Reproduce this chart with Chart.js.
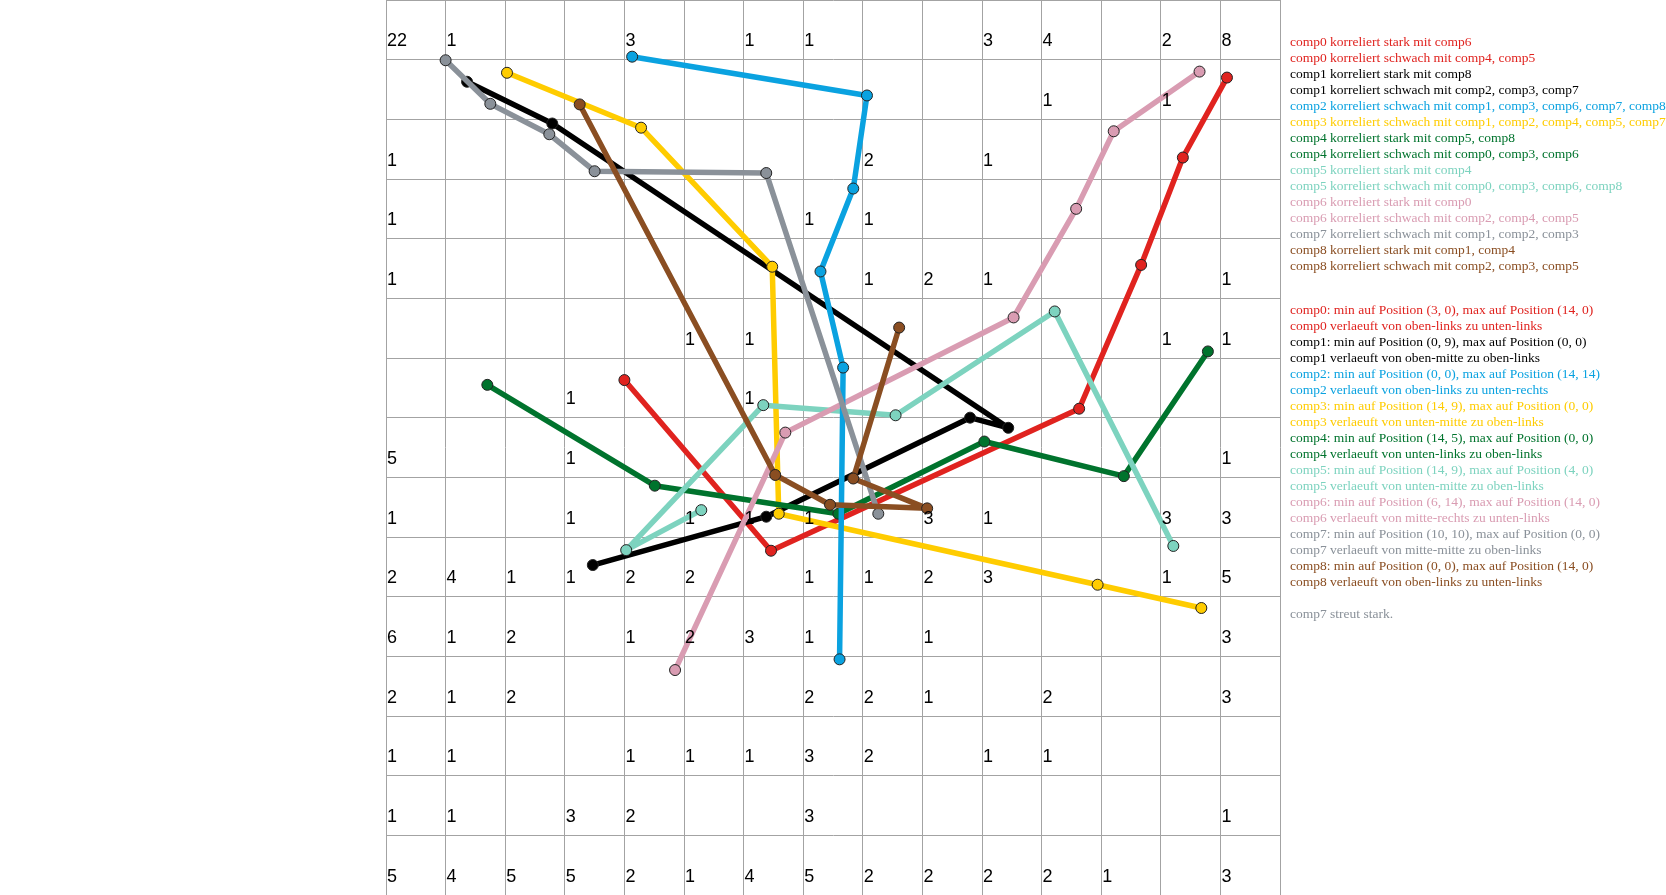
<!DOCTYPE html>
<html>
<head>
<meta charset="utf-8">
<script src="https://cdn.jsdelivr.net/npm/chart.js@4/dist/chart.umd.min.js"></script>
<style>
  html, body { margin: 0; padding: 0; background: #fff; overflow: hidden; }
  #wrap { position: relative; width: 1666px; height: 895px; overflow: hidden; }
  #c { position: absolute; left: 0; top: 0; }
  .notes { position: absolute; left: 1290px; font-family: "Liberation Serif", "Times New Roman", serif;
           font-size: 13.5px; line-height: 16px; white-space: pre; }
</style>
</head>
<body>
<div id="wrap">
  <canvas id="c" width="1666" height="895"></canvas>
  <div id="notes1" class="notes" style="top:34px"></div>
  <div id="notes2" class="notes" style="top:302px"></div>
  <div id="notes3" class="notes" style="top:606px"></div>
</div>
<script>
// ---------- data ----------
const gridSize = 15;

// hit counts per cell (row by row, top to bottom); 0 = empty
const countRow0  = [22,1,0,0,3,0,1,1,0,0,3,4,0,2,8];
const countRow1  = [0,0,0,0,0,0,0,0,0,0,0,1,0,1,0];
const countRow2  = [1,0,0,0,0,0,0,0,2,0,1,0,0,0,0];
const countRow3  = [1,0,0,0,0,0,0,1,1,0,0,0,0,0,0];
const countRow4  = [1,0,0,0,0,0,0,0,1,2,1,0,0,0,1];
const countRow5  = [0,0,0,0,0,1,1,0,0,0,0,0,0,1,1];
const countRow6  = [0,0,0,1,0,0,1,0,0,0,0,0,0,0,0];
const countRow7  = [5,0,0,1,0,0,0,0,0,0,0,0,0,0,1];
const countRow8  = [1,0,0,1,0,1,1,1,0,3,1,0,0,3,3];
const countRow9  = [2,4,1,1,2,2,0,1,1,2,3,0,0,1,5];
const countRow10 = [6,1,2,0,1,2,3,1,0,1,0,0,0,0,3];
const countRow11 = [2,1,2,0,0,0,0,2,2,1,0,2,0,0,3];
const countRow12 = [1,1,0,0,1,1,1,3,2,0,1,1,0,0,0];
const countRow13 = [1,1,0,3,2,0,0,3,0,0,0,0,0,0,1];
const countRow14 = [5,4,5,5,2,1,4,5,2,2,2,2,1,0,3];
const countRows = [countRow0,countRow1,countRow2,countRow3,countRow4,countRow5,countRow6,countRow7,
                   countRow8,countRow9,countRow10,countRow11,countRow12,countRow13,countRow14];

// component trajectories, in grid units (x = column, y = row)
const comp0X = [4.00, 6.46, 11.63, 12.67, 13.37, 14.11];
const comp0Y = [6.37, 9.23, 6.85, 4.44, 2.64, 1.30];
const comp1X = [1.36, 2.79, 10.44, 9.80, 6.38, 3.47];
const comp1Y = [1.37, 2.07, 7.17, 7.00, 8.66, 9.47];
const comp2X = [4.13, 8.07, 7.84, 7.29, 7.67, 7.61];
const comp2Y = [0.95, 1.60, 3.16, 4.55, 6.16, 11.05];
const comp3X = [2.03, 4.28, 6.48, 6.59, 11.94, 13.68];
const comp3Y = [1.22, 2.14, 4.47, 8.61, 9.80, 10.19];
const comp4X = [1.70, 4.51, 7.59, 10.04, 12.38, 13.79];
const comp4Y = [6.45, 8.14, 8.61, 7.40, 7.98, 5.89];
const comp5X = [5.29, 4.03, 6.33, 8.55, 11.22, 13.21];
const comp5Y = [8.55, 9.22, 6.79, 6.96, 5.22, 9.15];
const comp6X = [4.85, 6.70, 10.53, 11.58, 12.21, 13.65];
const comp6Y = [11.23, 7.25, 5.32, 3.50, 2.20, 1.20];
const comp7X = [1.00, 1.75, 2.74, 3.50, 6.38, 8.26];
const comp7Y = [1.01, 1.74, 2.25, 2.87, 2.90, 8.61];
const comp8X = [3.25, 6.53, 7.45, 9.08, 7.84, 8.61];
const comp8Y = [1.75, 7.96, 8.46, 8.52, 8.02, 5.49];

const compNames = ['comp0','comp1','comp2','comp3','comp4','comp5','comp6','comp7','comp8'];
const compXs = [comp0X, comp1X, comp2X, comp3X, comp4X, comp5X, comp6X, comp7X, comp8X];
const compYs = [comp0Y, comp1Y, comp2Y, comp3Y, comp4Y, comp5Y, comp6Y, comp7Y, comp8Y];
const compColors = ['#e0231f','#000000','#0aa2e0','#ffcc00','#00732d','#7dd3bf','#d99cb2','#8a9199','#8a4e22'];
// bottom-to-top drawing rank
const drawRank = [0, 1, 6, 2, 3, 4, 5, 7, 8];

// text notes
const corrNotes = [
  [0,'comp0 korreliert stark mit comp6'],
  [0,'comp0 korreliert schwach mit comp4, comp5'],
  [1,'comp1 korreliert stark mit comp8'],
  [1,'comp1 korreliert schwach mit comp2, comp3, comp7'],
  [2,'comp2 korreliert schwach mit comp1, comp3, comp6, comp7, comp8'],
  [3,'comp3 korreliert schwach mit comp1, comp2, comp4, comp5, comp7'],
  [4,'comp4 korreliert stark mit comp5, comp8'],
  [4,'comp4 korreliert schwach mit comp0, comp3, comp6'],
  [5,'comp5 korreliert stark mit comp4'],
  [5,'comp5 korreliert schwach mit comp0, comp3, comp6, comp8'],
  [6,'comp6 korreliert stark mit comp0'],
  [6,'comp6 korreliert schwach mit comp2, comp4, comp5'],
  [7,'comp7 korreliert schwach mit comp1, comp2, comp3'],
  [8,'comp8 korreliert stark mit comp1, comp4'],
  [8,'comp8 korreliert schwach mit comp2, comp3, comp5']
];
const posNotes = [
  [0,'comp0: min auf Position (3, 0), max auf Position (14, 0)'],
  [0,'comp0 verlaeuft von oben-links zu unten-links'],
  [1,'comp1: min auf Position (0, 9), max auf Position (0, 0)'],
  [1,'comp1 verlaeuft von oben-mitte zu oben-links'],
  [2,'comp2: min auf Position (0, 0), max auf Position (14, 14)'],
  [2,'comp2 verlaeuft von oben-links zu unten-rechts'],
  [3,'comp3: min auf Position (14, 9), max auf Position (0, 0)'],
  [3,'comp3 verlaeuft von unten-mitte zu oben-links'],
  [4,'comp4: min auf Position (14, 5), max auf Position (0, 0)'],
  [4,'comp4 verlaeuft von unten-links zu oben-links'],
  [5,'comp5: min auf Position (14, 9), max auf Position (4, 0)'],
  [5,'comp5 verlaeuft von unten-mitte zu oben-links'],
  [6,'comp6: min auf Position (6, 14), max auf Position (14, 0)'],
  [6,'comp6 verlaeuft von mitte-rechts zu unten-links'],
  [7,'comp7: min auf Position (10, 10), max auf Position (0, 0)'],
  [7,'comp7 verlaeuft von mitte-mitte zu oben-links'],
  [8,'comp8: min auf Position (0, 0), max auf Position (14, 0)'],
  [8,'comp8 verlaeuft von oben-links zu unten-links']
];
const spreadNotes = [[7,'comp7 streut stark.']];

// ---------- notes panel ----------
function fillNotes(id, list) {
  const box = document.getElementById(id);
  list.forEach(entry => {
    const d = document.createElement('div');
    d.textContent = entry[1];
    d.style.color = compColors[entry[0]];
    box.appendChild(d);
  });
}
fillNotes('notes1', corrNotes);
fillNotes('notes2', posNotes);
fillNotes('notes3', spreadNotes);

// ---------- chart ----------
const datasets = compNames.map((name, i) => ({
  label: name,
  data: compXs[i].map((x, k) => ({ x: x, y: compYs[i][k] })),
  showLine: true,
  borderColor: compColors[i],
  borderWidth: 5.5,
  borderJoinStyle: 'round',
  borderCapStyle: 'round',
  pointRadius: 5.5,
  pointHoverRadius: 5.5,
  pointBackgroundColor: compColors[i],
  pointBorderColor: '#222',
  pointBorderWidth: 1,
  order: 8 - drawRank[i],
  clip: false
}));

const countPlugin = {
  id: 'counts',
  afterDatasetsDraw(chart) {
    const ctx = chart.ctx;
    const xs = chart.scales.x, ys = chart.scales.y;
    ctx.save();
    ctx.font = '18px "Liberation Sans", Arial, sans-serif';
    ctx.fillStyle = '#000';
    ctx.textAlign = 'left';
    ctx.textBaseline = 'alphabetic';
    countRows.forEach((row, r) => {
      row.forEach((v, c) => {
        if (!v) return;
        const left = xs.getPixelForValue(c);
        const top = ys.getPixelForValue(r);
        const h = ys.getPixelForValue(r + 1) - top;
        ctx.fillText(String(v), left + 1, top + h * 0.775);
      });
    });
    ctx.restore();
  }
};

function zeroFit(s, horizontal) {
  if (horizontal) s.height = 0; else s.width = 0;
  s.paddingTop = 0; s.paddingBottom = 0; s.paddingLeft = 0; s.paddingRight = 0;
}

const axisCommon = {
  type: 'linear', min: 0, max: gridSize,
  ticks: { display: false, stepSize: 1 },
  grid: { color: '#a3a3a3', lineWidth: 1, drawTicks: false },
  border: { display: true, color: '#a3a3a3' }
};

new Chart(document.getElementById('c'), {
  type: 'scatter',
  data: { datasets },
  options: {
    responsive: false,
    devicePixelRatio: 1,
    animation: false,
    layout: { autoPadding: false, padding: { left: 386, right: 386, top: 0, bottom: 0 } },
    plugins: { legend: { display: false }, tooltip: { enabled: false } },
    scales: {
      x: Object.assign({}, axisCommon, { position: 'bottom', afterFit(s) { zeroFit(s, true); } }),
      y: Object.assign({}, axisCommon, { reverse: true, position: 'left', afterFit(s) { zeroFit(s, false); } })
    }
  },
  plugins: [countPlugin]
});
</script>
</body>
</html>
